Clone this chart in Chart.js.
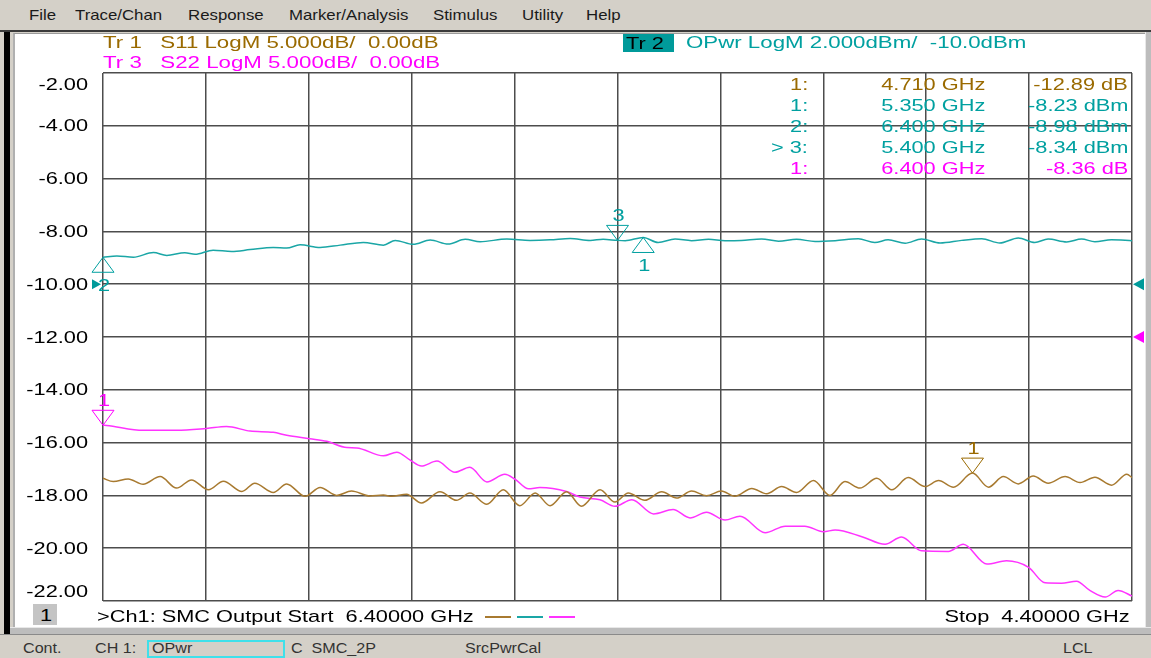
<!DOCTYPE html>
<html>
<head>
<meta charset="utf-8">
<title>SMC Output</title>
<script src="https://cdn.jsdelivr.net/npm/chart.js@4.4.1/dist/chart.umd.min.js"></script>
<style>
  html, body { margin: 0; padding: 0; }
  body { width: 1151px; height: 658px; overflow: hidden; position: relative; background: #d4d0c8; font-family: "Liberation Sans", Arial, sans-serif; }
  #menubar { position: absolute; left: 0; top: 0; width: 1151px; height: 30px; background: #d4d0c8; border-bottom: 2px solid #3a3a3a; }
  #menubar span { position: absolute; top: 7px; font-size: 15px; line-height: 15px; color: #1a1a1a; transform: scaleX(1.12); transform-origin: left top; }
  #edge { position: absolute; left: 4px; top: 32px; width: 6px; height: 602px; background: #000; }
  #panel { position: absolute; left: 13px; top: 33px; width: 1131px; height: 593px; background: #fff; border-top: 1px solid #9a9a9a; border-left: 2px solid #b0b0b0; }
  #panelBottom { position: absolute; left: 10px; top: 627px; width: 1141px; height: 6px; background: #bdbdbd; border-top: 1px solid #e8e8e8; }
  #panelRight { position: absolute; left: 1145px; top: 32px; width: 6px; height: 601px; background: #bdbdbd; border-left: 1px solid #e8e8e8; }
  #statusbar { position: absolute; left: 0; top: 634px; width: 1151px; height: 24px; background: #d4d0c8; border-top: 1px solid #8a8a8a; }
  #statusbar span { position: absolute; top: 6px; font-size: 14px; line-height: 14px; color: #333; white-space: pre; transform: scaleX(1.15); transform-origin: left top; }
  #opwrBox { position: absolute; left: 147px; top: 640px; width: 134px; height: 14px; border: 2px solid #3fe0ea; }
  #chart { position: absolute; left: 0; top: 0; z-index: 2; }
  .txt { position: absolute; white-space: pre; font-size: 17px; line-height: 17px; transform: scaleX(1.28); transform-origin: left top; z-index: 3; }
  .hdr { transform: scaleX(1.31); }
  .rt { transform-origin: right top; }
  #tr2box { position: absolute; left: 623px; top: 34px; width: 51px; height: 18px; background: #009a9a; z-index: 3; }
  #chBox { position: absolute; left: 33px; top: 604px; width: 24px; height: 21px; background: #c4c4c4; z-index: 3; }
  .seg { position: absolute; top: 616px; height: 2px; width: 26px; z-index: 3; }
</style>
</head>
<body>
<div id="menubar">
  <span style="left:29px">File</span>
  <span style="left:75px">Trace/Chan</span>
  <span style="left:188px">Response</span>
  <span style="left:289px">Marker/Analysis</span>
  <span style="left:433px">Stimulus</span>
  <span style="left:522px">Utility</span>
  <span style="left:586px">Help</span>
</div>
<div id="edge"></div>
<div id="panel"></div>
<div id="panelRight"></div>
<div id="panelBottom"></div>

<canvas id="chart" width="1151" height="658"></canvas>

<div class="txt hdr" style="left:103px; top:34px; color:#9a6a00">Tr 1   S11 LogM 5.000dB/  0.00dB</div>
<div class="txt hdr" style="left:103px; top:54px; color:#ff00ff">Tr 3   S22 LogM 5.000dB/  0.00dB</div>
<div id="tr2box"></div>
<div class="txt" style="left:626px; top:35px; color:#000">Tr 2</div>
<div class="txt hdr" style="left:686px; top:34px; color:#00a0a0">OPwr LogM 2.000dBm/  -10.0dBm</div>
<div id="markerTable"></div>

<div id="chBox"></div>
<div class="txt" style="left:40px; top:607px; color:#000">1</div>
<div class="txt" style="left:97px; top:608px; color:#000">&gt;Ch1: SMC Output Start  6.40000 GHz</div>
<div class="seg" style="left:485px; background:#a87a30"></div>
<div class="seg" style="left:517px; background:#1aa6a6"></div>
<div class="seg" style="left:549px; background:#ff33ff"></div>
<div class="txt rt" style="right:21px; top:608px; color:#000">Stop  4.40000 GHz</div>

<div id="statusbar">
  <span style="left:23px">Cont.</span>
  <span style="left:95px">CH 1:</span>
  <span style="left:152px">OPwr</span>
  <span style="left:291px">C  SMC_2P</span>
  <span style="left:465px">SrcPwrCal</span>
  <span style="left:1063px">LCL</span>
</div>
<div id="opwrBox"></div>

<script>
// --- grille et graduations (Start 6.4 GHz a gauche, Stop 4.4 GHz a droite) ---
const xGridGHz = [4.4, 4.6, 4.8, 5.0, 5.2, 5.4, 5.6, 5.8, 6.0, 6.2, 6.4];
const yTicksDbm = [-2, -4, -6, -8, -10, -12, -14, -16, -18, -20, -22];

// --- Tr 1 : S11 (dB, 5 dB/div, ref 0 dB) ---
const freqS11 = [6.400, 6.380, 6.351, 6.322, 6.289, 6.257, 6.228, 6.195, 6.166, 6.130,
  6.105, 6.069, 6.043, 6.007, 5.978, 5.946, 5.917, 5.881, 5.855, 5.839,
  5.810, 5.781, 5.745, 5.713, 5.687, 5.654, 5.622, 5.590, 5.560, 5.531,
  5.499, 5.470, 5.434, 5.405, 5.379, 5.347, 5.314, 5.285, 5.256, 5.227,
  5.198, 5.172, 5.139, 5.110, 5.081, 5.052, 5.019, 4.987, 4.958, 4.929,
  4.896, 4.867, 4.835, 4.802, 4.776, 4.747, 4.710, 4.679, 4.650, 4.621,
  4.592, 4.563, 4.530, 4.501, 4.472, 4.440, 4.410, 4.400];
const s11dB = [-13.38, -13.69, -13.44, -13.94, -13.22, -14.31, -13.53, -14.47, -13.66, -14.63,
  -13.84, -14.72, -13.91, -15.09, -14.25, -15.00, -14.59, -15.06, -14.97, -15.09,
  -14.88, -15.72, -14.66, -15.47, -14.78, -15.84, -14.47, -15.97, -14.78, -15.97,
  -14.66, -16.03, -14.47, -15.63, -14.78, -15.47, -14.66, -15.25, -14.59, -15.03,
  -14.59, -15.09, -14.34, -14.84, -14.16, -14.72, -13.59, -15.00, -13.69, -14.31,
  -13.38, -14.47, -13.31, -14.16, -13.59, -14.22, -12.89, -14.22, -13.22, -13.91,
  -13.16, -13.84, -13.22, -13.78, -13.28, -14.03, -13.00, -13.31];

// --- Tr 2 : OPwr (dBm, 2 dBm/div, ref -10 dBm) ---
const freqOPwr = [6.400, 6.373, 6.341, 6.302, 6.276, 6.241, 6.221, 6.186, 6.150, 6.114,
  6.069, 6.043, 6.017, 5.978, 5.939, 5.894, 5.855, 5.832, 5.797, 5.764,
  5.729, 5.696, 5.667, 5.615, 5.570, 5.531, 5.492, 5.453, 5.428, 5.400,
  5.385, 5.350, 5.321, 5.288, 5.256, 5.223, 5.191, 5.159, 5.120, 5.087,
  5.052, 5.016, 4.977, 4.932, 4.900, 4.874, 4.841, 4.809, 4.773, 4.731,
  4.692, 4.657, 4.621, 4.589, 4.563, 4.527, 4.498, 4.472, 4.440, 4.400];
const opwrDbm = [-8.98, -8.93, -8.98, -8.80, -8.91, -8.81, -8.87, -8.71, -8.76, -8.69,
  -8.61, -8.63, -8.51, -8.61, -8.52, -8.42, -8.52, -8.34, -8.49, -8.33,
  -8.48, -8.30, -8.39, -8.29, -8.34, -8.32, -8.27, -8.34, -8.30, -8.34,
  -8.35, -8.23, -8.42, -8.29, -8.35, -8.30, -8.35, -8.34, -8.29, -8.37,
  -8.30, -8.38, -8.35, -8.28, -8.42, -8.32, -8.45, -8.29, -8.44, -8.34,
  -8.28, -8.44, -8.25, -8.42, -8.29, -8.40, -8.29, -8.39, -8.32, -8.35];

// --- Tr 3 : S22 (dB, 5 dB/div, ref 0 dB) ---
const freqS22 = [6.400, 6.393, 6.322, 6.257, 6.199, 6.160, 6.114, 6.069, 6.043, 5.998,
  5.965, 5.926, 5.907, 5.855, 5.829, 5.803, 5.781, 5.751, 5.716, 5.687,
  5.654, 5.619, 5.599, 5.573, 5.551, 5.499, 5.473, 5.434, 5.405, 5.372,
  5.330, 5.292, 5.259, 5.227, 5.191, 5.162, 5.113, 5.074, 5.036, 5.000,
  4.977, 4.925, 4.880, 4.848, 4.809, 4.757, 4.728, 4.682, 4.644, 4.601,
  4.569, 4.537, 4.508, 4.482, 4.452, 4.427, 4.400];
const s22dB = [-8.36, -8.38, -8.84, -8.84, -8.66, -8.47, -8.91, -9.03, -9.31, -9.63,
  -9.88, -10.47, -10.50, -11.25, -10.91, -11.66, -12.22, -11.75, -12.81, -12.34,
  -13.72, -13.00, -13.47, -14.38, -14.25, -14.63, -15.16, -15.41, -16.03, -15.41,
  -16.75, -16.34, -17.13, -16.59, -17.34, -16.97, -18.53, -17.91, -17.91, -18.44,
  -18.28, -18.91, -19.63, -18.94, -20.25, -20.31, -19.63, -21.50, -21.19, -21.81,
  -23.28, -23.31, -23.13, -24.00, -24.63, -24.00, -24.53];

// --- marqueurs (meme ordre que le tableau en haut a droite) ---
const markerTrace = ['Tr1', 'Tr2', 'Tr2', 'Tr2', 'Tr3'];
const markerNum = ['1', '1', '2', '3', '1'];
const markerFreq = [4.710, 5.350, 6.400, 5.400, 6.400];
const markerVal = [-12.89, -8.23, -8.98, -8.34, -8.36];
const activeMarker = 3;

// niveaux de reference
const refOPwr = -10;
const refSparam = 0;

const traceUnit = { Tr1: 'dB', Tr2: 'dBm', Tr3: 'dB' };
const traceText = { Tr1: '#9a6a00', Tr2: '#00a0a0', Tr3: '#ff00ff' };
const traceLine = { Tr1: '#a87a30', Tr2: '#1aa6a6', Tr3: '#ff33ff' };
const traceAxis = { Tr1: 'yS', Tr2: 'y', Tr3: 'yS' };

// --- tableau des marqueurs (texte reel) ---
function buildMarkerTable() {
    const box = document.getElementById('markerTable');
    let html = '';
    markerFreq.forEach((f, i) => {
        const tr = markerTrace[i];
        const top = 76 + 21 * i;
        const col = traceText[tr];
        const num = (i === activeMarker ? '> ' : '') + markerNum[i] + ':';
        html += `<div class="txt rt" style="right:${1151 - 808}px; top:${top}px; color:${col}">${num}</div>`;
        html += `<div class="txt rt" style="right:${1151 - 985}px; top:${top}px; color:${col}">${f.toFixed(3)} GHz</div>`;
        html += `<div class="txt rt" style="right:${1151 - 1128}px; top:${top}px; color:${col}">${markerVal[i].toFixed(2)} ${traceUnit[tr]}</div>`;
    });
    box.innerHTML = html;
}

// --- etiquettes de l'axe Y (comme sur l'analyseur : premiere/derniere rentrees) ---
const yLabelPlugin = {
    id: 'yLabels',
    afterDraw(chart) {
        const sc = chart.scales.y;
        const area = chart.chartArea;
        const ctx = chart.ctx;
        ctx.save();
        ctx.font = '17px "Liberation Sans", Arial, sans-serif';
        ctx.fillStyle = '#000';
        ctx.textAlign = 'right';
        ctx.textBaseline = 'middle';
        yTicksDbm.forEach(v => {
            let py = sc.getPixelForValue(v);
            py = Math.min(Math.max(py, area.top + 11), area.bottom - 10);
            ctx.save();
            ctx.translate(area.left - 15, py + 1);
            ctx.scale(1.28, 1);
            ctx.fillText(v.toFixed(2), 0, 0);
            ctx.restore();
        });
        ctx.restore();
    }
};

// --- triangles des marqueurs + fleches de reference ---
const markerPlugin = {
    id: 'vnaMarkers',
    afterDatasetsDraw(chart) {
        const ctx = chart.ctx;
        const xs = chart.scales.x;
        const area = chart.chartArea;
        ctx.save();
        ctx.lineWidth = 1;
        ctx.font = '17px "Liberation Sans", Arial, sans-serif';
        ctx.textAlign = 'center';
        ctx.textBaseline = 'middle';
        markerFreq.forEach((f, i) => {
            const tr = markerTrace[i];
            const px = xs.getPixelForValue(f);
            const py = chart.scales[traceAxis[tr]].getPixelForValue(markerVal[i]);
            // sur la trace OPwr, les marqueurs non actifs sont dessines sous la courbe
            const below = tr === 'Tr2' && i !== activeMarker;
            const dir = below ? 1 : -1;
            ctx.strokeStyle = traceText[tr];
            ctx.fillStyle = traceText[tr];
            ctx.beginPath();
            ctx.moveTo(px, py);
            ctx.lineTo(px - 11, py + dir * 15);
            ctx.lineTo(px + 11, py + dir * 15);
            ctx.closePath();
            ctx.stroke();
            ctx.save();
            ctx.translate(px + 1, below ? py + 29 : py - 24);
            ctx.scale(1.28, 1);
            ctx.fillText(markerNum[i], 0, 0);
            ctx.restore();
        });

        // reference OPwr : a gauche et a droite
        const yRef = chart.scales.y.getPixelForValue(refOPwr);
        ctx.fillStyle = '#009a9a';
        ctx.beginPath();
        ctx.moveTo(area.left - 2, yRef);
        ctx.lineTo(area.left - 11, yRef - 5);
        ctx.lineTo(area.left - 11, yRef + 5);
        ctx.closePath();
        ctx.fill();
        ctx.beginPath();
        ctx.moveTo(area.right + 1, yRef);
        ctx.lineTo(area.right + 12, yRef - 6);
        ctx.lineTo(area.right + 12, yRef + 6);
        ctx.closePath();
        ctx.fill();
        // reference S11/S22 a droite
        const ySref = chart.scales.yS.getPixelForValue(refSparam);
        ctx.fillStyle = '#ff00ff';
        ctx.beginPath();
        ctx.moveTo(area.right + 1, ySref);
        ctx.lineTo(area.right + 12, ySref - 6);
        ctx.lineTo(area.right + 12, ySref + 6);
        ctx.closePath();
        ctx.fill();
        ctx.restore();
    }
};

function toPoints(xs, ys) {
    return xs.map((x, i) => ({ x: x, y: ys[i] }));
}

function traceDataset(label, tr, xs, ys) {
    return {
        label: label,
        data: toPoints(xs, ys),
        yAxisID: traceAxis[tr],
        borderColor: traceLine[tr],
        borderWidth: 1.5,
        pointRadius: 0,
        cubicInterpolationMode: 'monotone',
        fill: false
    };
}

function initChart() {
    const gridStyle = { color: '#4d4d4d', lineWidth: 1.5, drawTicks: false };
    new Chart(document.getElementById('chart').getContext('2d'), {
        type: 'line',
        data: {
            datasets: [
                traceDataset('S11', 'Tr1', freqS11, s11dB),
                traceDataset('OPwr', 'Tr2', freqOPwr, opwrDbm),
                traceDataset('S22', 'Tr3', freqS22, s22dB)
            ]
        },
        options: {
            responsive: false,
            animation: false,
            devicePixelRatio: 1,
            layout: { padding: { left: 103, top: 73, right: 19, bottom: 57 } },
            plugins: { legend: { display: false }, tooltip: { enabled: false } },
            scales: {
                x: {
                    type: 'linear', min: 4.4, max: 6.4, reverse: true,
                    ticks: { display: false },
                    grid: gridStyle,
                    border: { display: false },
                    afterBuildTicks: s => { s.ticks = xGridGHz.map(v => ({ value: v })); }
                },
                y: {
                    type: 'linear', min: -22, max: -2,
                    ticks: { display: false },
                    grid: gridStyle,
                    border: { display: false },
                    afterBuildTicks: s => { s.ticks = yTicksDbm.map(v => ({ value: v })); }
                },
                yS: { type: 'linear', min: -25, max: 25, display: false }
            }
        },
        plugins: [yLabelPlugin, markerPlugin]
    });
}

buildMarkerTable();
initChart();
</script>
</body>
</html>
